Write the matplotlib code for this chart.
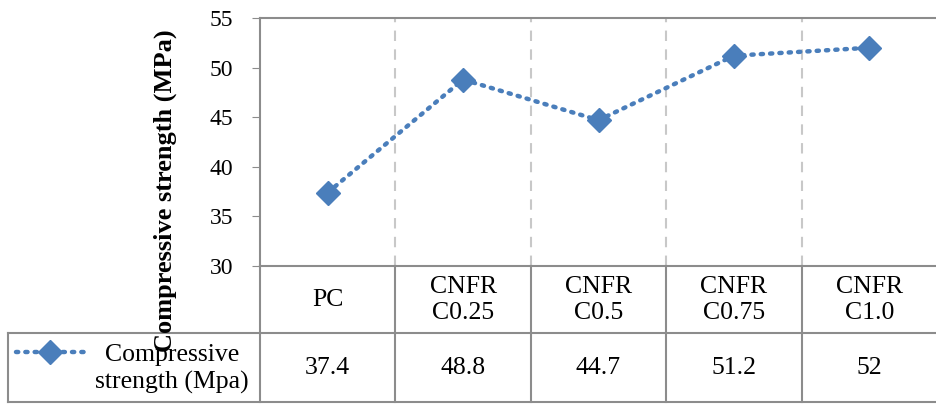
import matplotlib.pyplot as plt
from matplotlib.lines import Line2D
import matplotlib.transforms as mtrans

# ------- datos -------
categorias = ["PC", "CNFR\nC0.25", "CNFR\nC0.5", "CNFR\nC0.75", "CNFR\nC1.0"]
valores = [37.4, 48.8, 44.7, 51.2, 52]
etiquetas_tabla = ["37.4", "48.8", "44.7", "51.2", "52"]
serie = "Compressive\nstrength (Mpa)"

plt.rcParams['font.family'] = ['Liberation Serif', 'DejaVu Serif']
W, H = 937, 405
azul = "#4a7ebb"
gris = "#8c8c8c"
tam = 18.5

fig = plt.figure(figsize=(W/100, H/100), dpi=100)

def fx(px):
    return px / W

def fy(py):
    return 1 - py / H

# ------- grafica -------
ax = fig.add_axes([fx(260), fy(266), fx(937) - fx(260), fy(18) - fy(266)])
x = list(range(len(valores)))
ax.plot(x, valores, linestyle=(0, (0.5, 1.6)), dash_capstyle='round', linewidth=3.2,
        color=azul, marker='D', markersize=12, markeredgecolor=azul, zorder=3)
ax.set_xlim(-0.5, len(valores) - 0.5)
ax.set_ylim(30, 55)
ax.set_yticks([30, 35, 40, 45, 50, 55])
ax.tick_params(axis='y', labelsize=17, length=6, color=gris, pad=13.5)
ax.set_xticks([])
for xv in [0.5, 1.5, 2.5, 3.5]:
    ax.axvline(xv, color="#c8c8c8", linestyle=(0, (5, 4)), linewidth=1.5, zorder=1)
ax.spines['right'].set_visible(False)
ax.spines['bottom'].set_visible(False)
for s in ['left', 'top']:
    ax.spines[s].set_color(gris)
    ax.spines[s].set_linewidth(1.5)

fig.text(fx(165), fy(191), "Compressive strength (MPa)", rotation=90, fontsize=19,
         fontweight='bold', ha='center', va='center')

# ------- tabla de datos -------
mix = mtrans.blended_transform_factory(ax.transData, fig.transFigure)
kw = dict(color=gris, linewidth=1.5, clip_on=False)
fig.add_artist(Line2D([fx(260), 1], [fy(266)] * 2, **kw))
fig.add_artist(Line2D([fx(8), 1], [fy(333)] * 2, **kw))
fig.add_artist(Line2D([fx(8), 1], [fy(402)] * 2, **kw))
fig.add_artist(Line2D([fx(8), fx(8)], [fy(333), fy(402)], **kw))
fig.add_artist(Line2D([fx(260), fx(260)], [fy(266), fy(402)], **kw))
for xv in [0.5, 1.5, 2.5, 3.5]:
    fig.add_artist(Line2D([xv, xv], [fy(266), fy(402)], transform=mix, **kw))

for i, (c, v) in enumerate(zip(categorias, etiquetas_tabla)):
    fig.text(i, fy(300), c, transform=mix, ha='center', va='center', fontsize=tam,
             linespacing=1.25)
    fig.text(i, fy(368), v, transform=mix, ha='center', va='center', fontsize=tam)

# leyenda en la tabla
fig.add_artist(Line2D([fx(16), fx(84)], [fy(352)] * 2, linestyle=(0, (0.5, 1.6)),
                      dash_capstyle='round', linewidth=3.2, color=azul))
fig.add_artist(Line2D([fx(50)], [fy(352)], marker='D', markersize=12, color=azul))
fig.text(fx(172), fy(369), serie, ha='center', va='center', fontsize=tam, linespacing=1.25)

fig.savefig("out.png", dpi=100)
